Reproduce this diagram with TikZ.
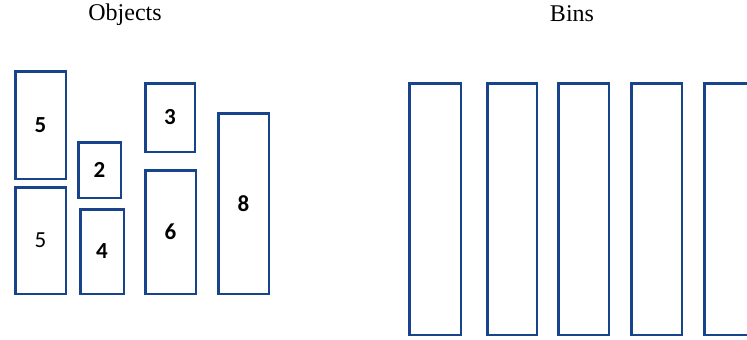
\documentclass[tikz,border=0pt]{standalone}
\usepackage{fontspec}
\setmainfont{Liberation Serif}
\newfontfamily\numfont{Carlito}
\definecolor{boxblue}{RGB}{24,68,140}

\begin{document}
\begin{tikzpicture}[
			x=1pt, y=-1pt,
			item/.style={rectangle, draw=boxblue, line width=2.5pt, inner sep=0pt, font=\numfont\fontsize{23}{23}\selectfont\bfseries},
			bin/.style={rectangle, draw=boxblue, line width=2.5pt, inner sep=0pt, minimum width=50.5pt, minimum height=251.5pt},
			title/.style={font=\fontsize{24}{24}\selectfont, inner sep=0pt}
		]
		\useasboundingbox (0,0) rectangle (747,340);
		\clip (0,0) rectangle (747,340);

		% titles
		\node[title] (objT) at (125,15) {Objects};
		\node[title] (binT) at (572,14) {Bins};

		% objects
		\node[item, minimum width=50.5pt, minimum height=107.5pt] (o5a) at (40.5,125) {5};
		\node[item, minimum width=50.5pt, minimum height=106.5pt, font=\numfont\fontsize{23}{23}\selectfont] (o5b) at (40.5,240.5) {5};
		\node[item, minimum width=42.5pt, minimum height=55.5pt] (o2) at (99.5,170) {2};
		\node[item, minimum width=43.5pt, minimum height=84.5pt] (o4) at (102,251.5) {4};
		\node[item, minimum width=49.5pt, minimum height=68.5pt] (o3) at (170,117.5) {3};
		\node[item, minimum width=50.5pt, minimum height=123.5pt] (o6) at (170.5,232) {6};
		\node[item, minimum width=50.5pt, minimum height=180.5pt] (o8) at (243.5,203.5) {8};

		% bins
		\node[bin, minimum width=51.5pt] (b1) at (435,209) {};
		\node[bin, minimum width=49.5pt] (b2) at (512,209) {};
		\node[bin] (b3) at (583.5,209) {};
		\node[bin] (b4) at (656.5,209) {};
		\node[bin] (b5) at (729.5,209) {};
	\end{tikzpicture}
\end{document}
